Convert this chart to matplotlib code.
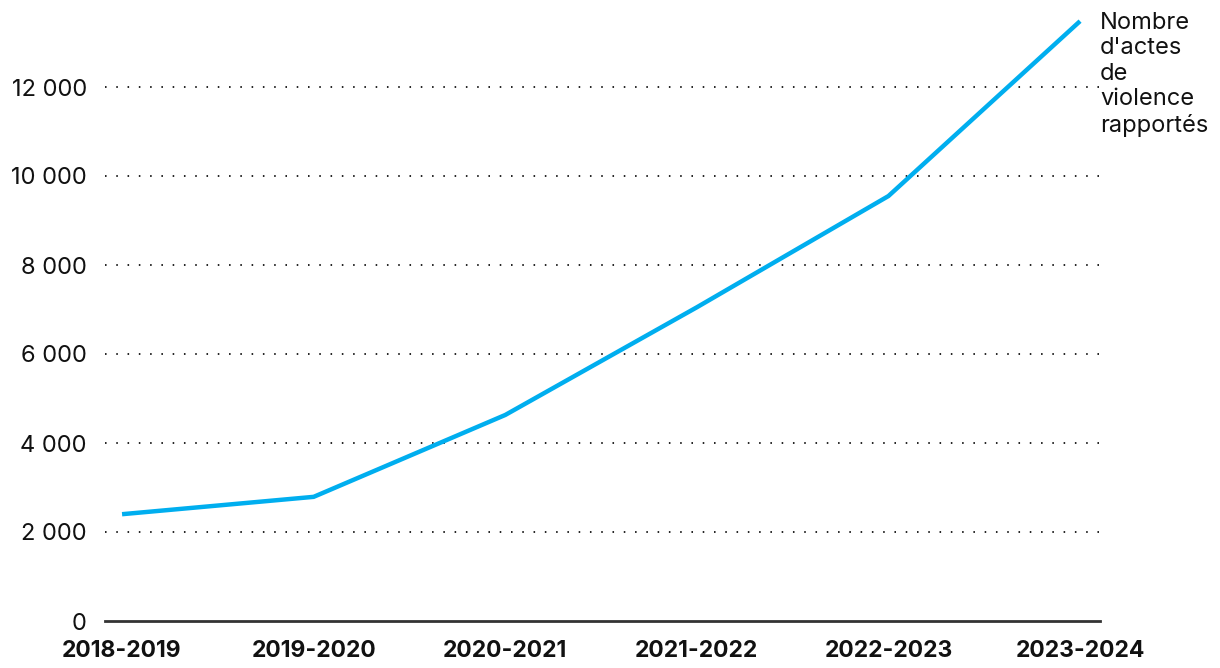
import matplotlib
matplotlib.use("Agg")
import matplotlib.pyplot as plt
from matplotlib.ticker import FuncFormatter

years = ["2018-2019", "2019-2020", "2020-2021", "2021-2022", "2022-2023", "2023-2024"]
actes = [2400, 2790, 4630, 7050, 9550, 13480]
yticks = [0, 2000, 4000, 6000, 8000, 10000, 12000]
series_label = "Nombre\nd'actes\nde\nviolence\nrapportés"

plt.rcParams['font.family'] = ['Inter', 'DejaVu Sans']

W, H = 1220, 668
fig = plt.figure(figsize=(W / 100, H / 100), dpi=100)
left, right, bottom, top = 105, 1100, 621, 15
ax = fig.add_axes([left / W, 1 - bottom / H, (right - left) / W, (bottom - top) / H])

x = list(range(len(years)))
ax.plot(x, actes, color="#00AEEF", lw=3.2, solid_capstyle="butt", solid_joinstyle="miter", zorder=3)

ax.set_xlim(-0.089, 5.104)
ax.set_ylim(0, (bottom - top) / 44.5 * 1000)

ax.set_yticks(yticks)
ax.yaxis.set_major_formatter(FuncFormatter(lambda v, p: f"{int(v):,}".replace(",", " ")))
ax.set_xticks(x)
ax.set_xticklabels(years, fontweight="bold", fontsize=16.5)

for v in yticks[1:]:
    ax.axhline(v, color="#222222", lw=1.4, ls=(0, (0.8, 5.0)), zorder=1)

for s in ["top", "right", "left"]:
    ax.spines[s].set_visible(False)
ax.spines["bottom"].set_color("#333333")
ax.spines["bottom"].set_linewidth(2)
ax.tick_params(axis="both", length=0, colors="#111111")
ax.tick_params(axis="y", pad=13, labelsize=17)
ax.tick_params(axis="x", pad=14)

ax.text(1100 / W, 1 - 12 / H, series_label, transform=fig.transFigure, ha="left", va="top",
        fontsize=17, color="#111111", linespacing=1.2)

fig.savefig("out.png", dpi=100)
